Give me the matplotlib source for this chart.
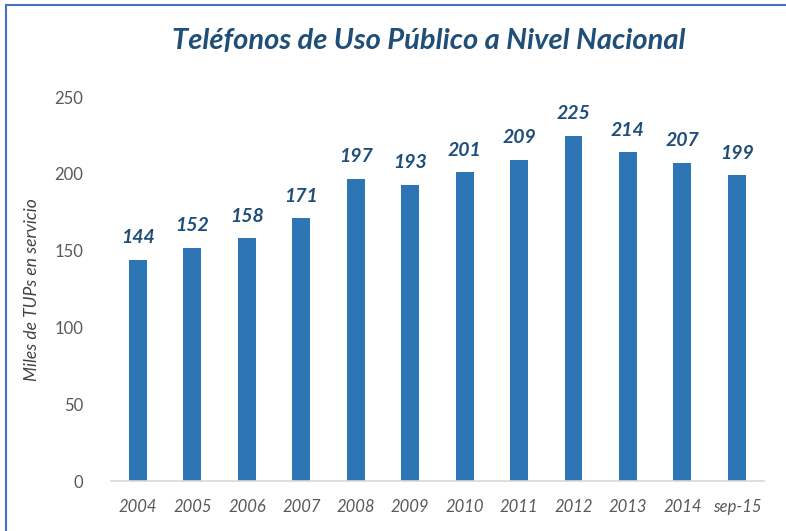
import matplotlib
matplotlib.use("Agg")
import matplotlib.pyplot as plt
from matplotlib.patches import Rectangle

categories = ["2004", "2005", "2006", "2007", "2008", "2009", "2010", "2011", "2012", "2013", "2014", "sep-15"]
values = [144, 152, 158, 171, 197, 193, 201, 209, 225, 214, 207, 199]
yticks = [0, 50, 100, 150, 200, 250]

plt.rcParams['font.family'] = ['Lato', 'DejaVu Sans']

fig = plt.figure(figsize=(7.86, 5.31), dpi=100)
ax = fig.add_axes([0.141, 0.094, 0.831, 0.723])

x = list(range(len(categories)))
ax.bar(x, values, width=0.33, color="#2E75B6", zorder=2)
for xi, v in zip(x, values):
    ax.annotate(str(v), (xi, v), xytext=(0, 10), textcoords="offset points",
                ha="center", va="bottom", fontsize=14, fontweight="bold",
                fontstyle="italic", color="#1F4E79")

ax.set_xlim(-0.5, len(categories) - 0.5)
ax.set_ylim(0, 250)
ax.set_yticks(yticks)
ax.set_yticklabels([str(t) for t in yticks], fontsize=12, color="#595959")
ax.set_xticks(x)
ax.set_xticklabels(categories, fontsize=12, color="#595959", fontstyle="italic")
ax.tick_params(axis="both", length=0)
ax.tick_params(axis="x", pad=13)
ax.tick_params(axis="y", pad=20)
for s in ["top", "right", "left"]:
    ax.spines[s].set_visible(False)
ax.spines["bottom"].set_color("#D9D9D9")
ax.spines["bottom"].set_linewidth(1.2)

ax.set_ylabel("Miles de TUPs en servicio", fontsize=12.5, fontstyle="italic", color="#404040", labelpad=10)

fig.text(0.546, 0.922, "Teléfonos de Uso Público a Nivel Nacional", ha="center", va="center",
         fontsize=21, fontweight="bold", fontstyle="italic", color="#1F4E79")

fig.add_artist(Rectangle((0.0076, -0.01), 1.1, 1.0, transform=fig.transFigure,
                         fill=False, edgecolor="#4472C4", linewidth=1.5))

fig.savefig("out.png", dpi=100)
